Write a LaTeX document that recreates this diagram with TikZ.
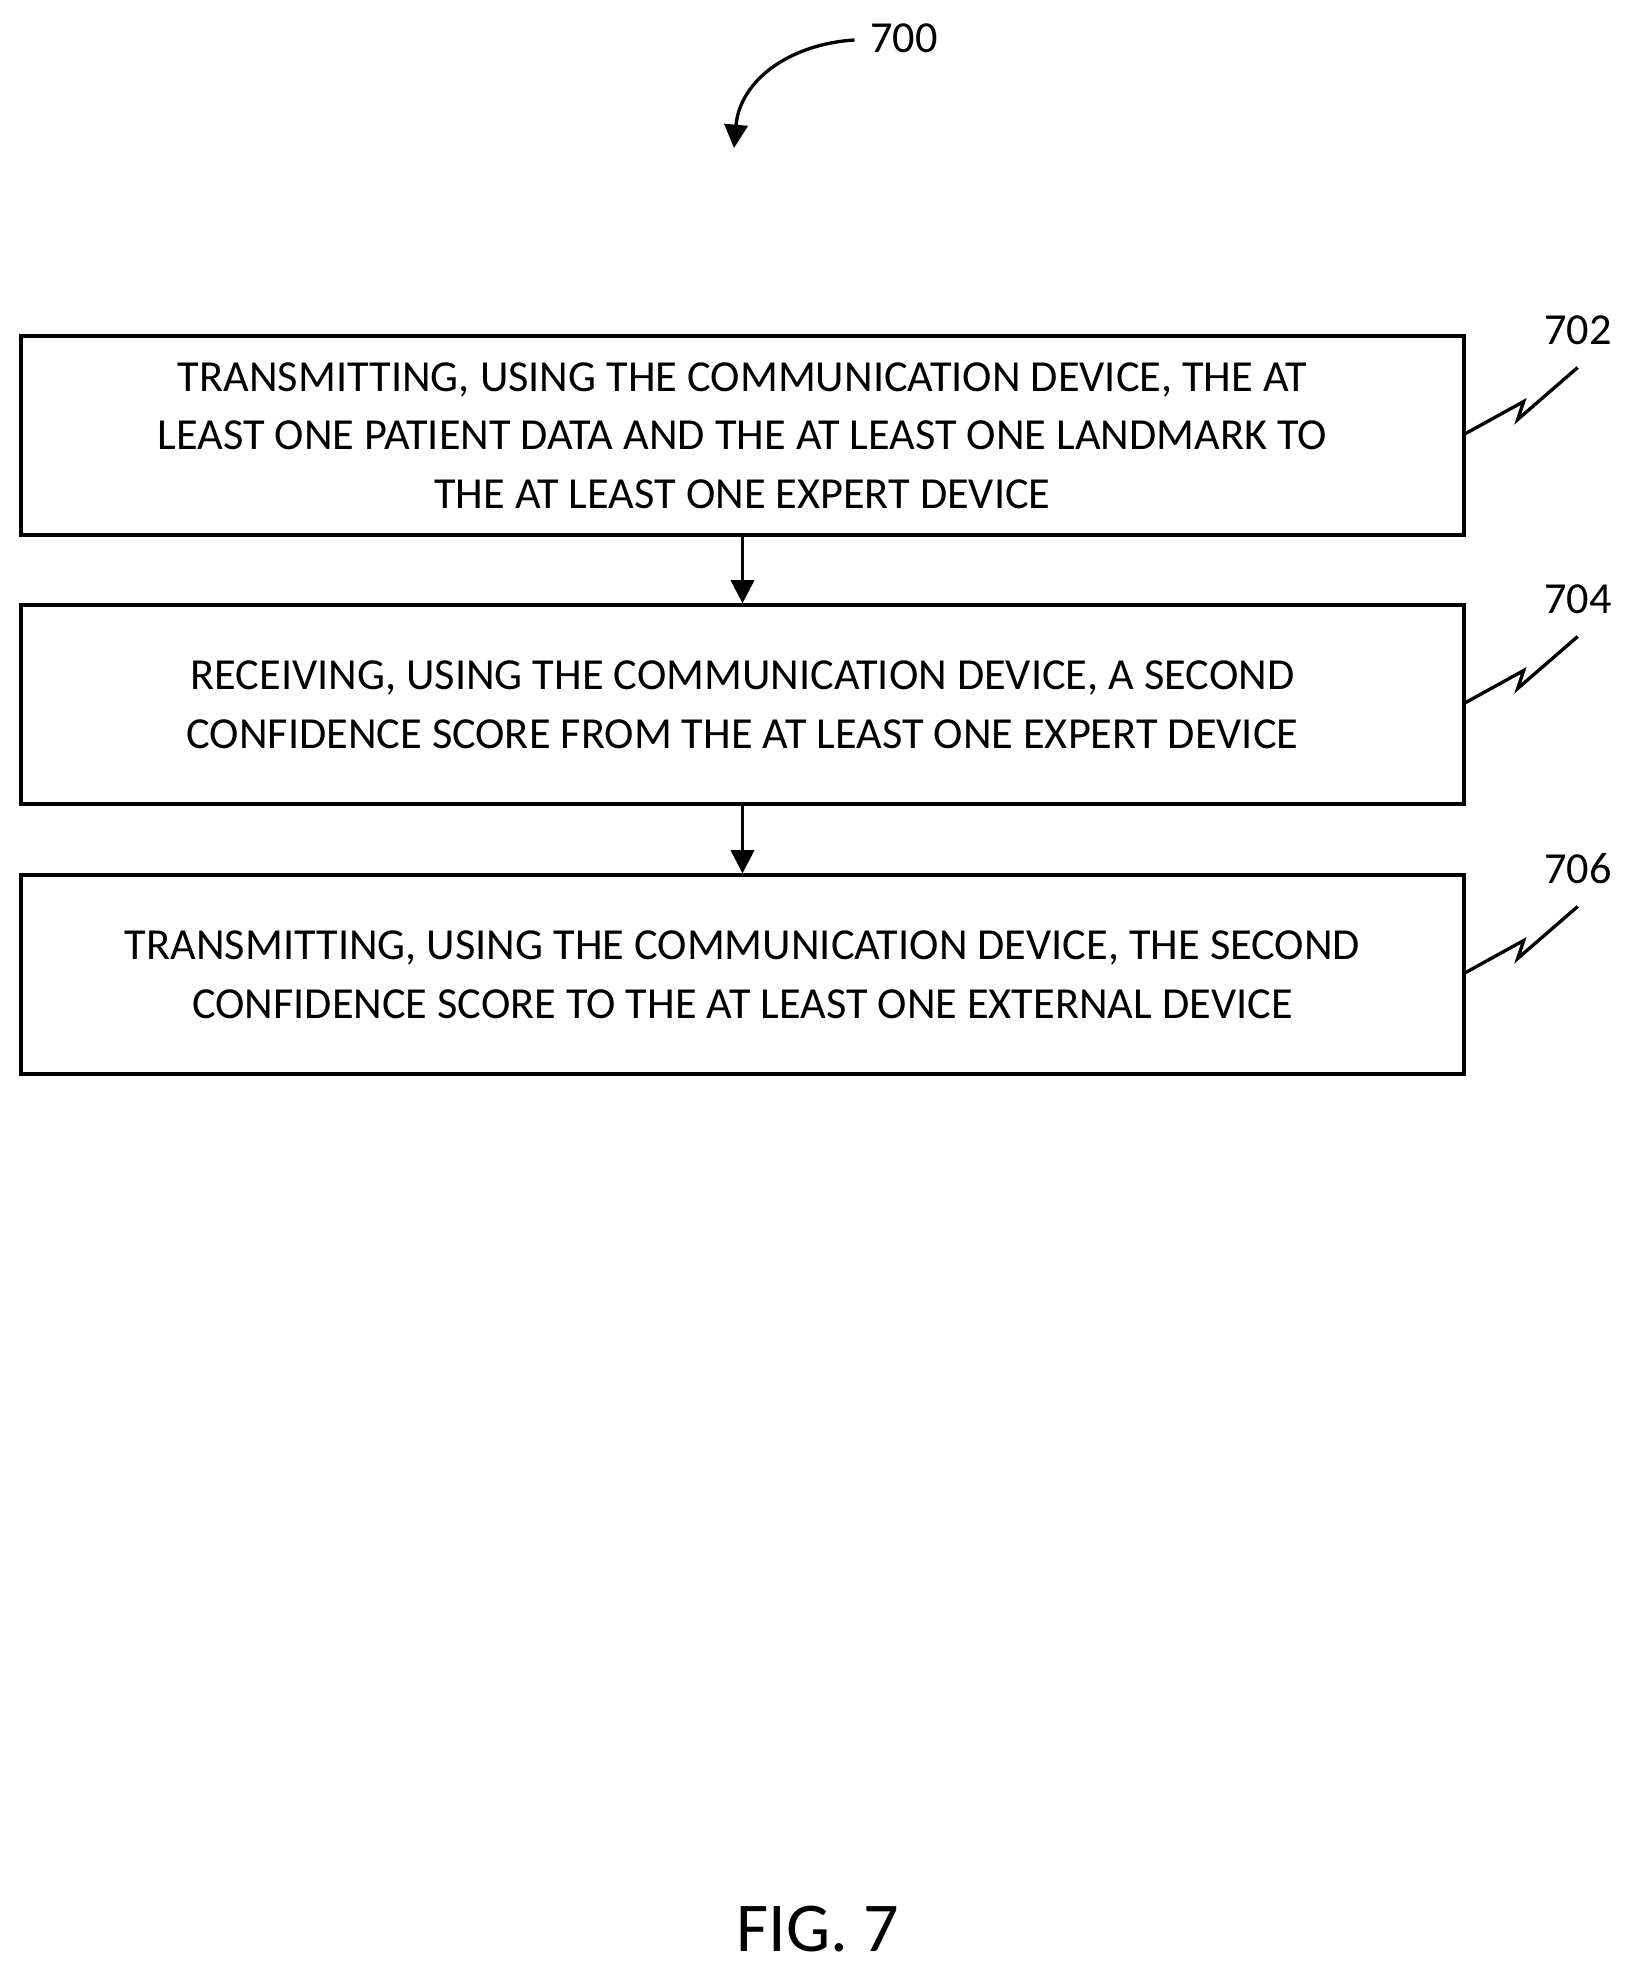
\documentclass[tikz,border=0pt]{standalone}
\usepackage{fontspec}
\setmainfont{Carlito}
\usetikzlibrary{arrows.meta}
\begin{document}
\begin{tikzpicture}[x=0.3pt,y=-0.3pt,
  stepbox/.style={draw,line width=1pt,minimum width=1443*0.3pt,minimum height=199*0.3pt,align=center,inner sep=0pt,font=\fontsize{13.3}{17.6}\selectfont},
  lbl/.style={font=\fontsize{13.3}{16}\selectfont},
  arr/.style={-{Triangle[length=7pt,width=7pt]},line width=1pt}]
\useasboundingbox (0,0) rectangle (1637,1977);
\node[stepbox] (b1) at (742.5,435.5) {TRANSMITTING, USING THE COMMUNICATION DEVICE, THE AT\\LEAST ONE PATIENT DATA AND THE AT LEAST ONE LANDMARK TO\\THE AT LEAST ONE EXPERT DEVICE};
\node[stepbox] (b2) at (742.5,704.5) {RECEIVING, USING THE COMMUNICATION DEVICE, A SECOND\\CONFIDENCE SCORE FROM THE AT LEAST ONE EXPERT DEVICE};
\node[stepbox] (b3) at (742.5,974.5) {TRANSMITTING, USING THE COMMUNICATION DEVICE, THE SECOND\\CONFIDENCE SCORE TO THE AT LEAST ONE EXTERNAL DEVICE};
\draw[arr] (b1.south) -- (b2.north);
\draw[arr] (b2.south) -- (b3.north);
\node[lbl] (l2) at (1578,330) {702};
\node[lbl] (l4) at (1578,599) {704};
\node[lbl] (l6) at (1578,869) {706};
\foreach \b/\l in {b1/l2,b2/l4,b3/l6}{
  \draw[line width=1pt] (\b.east) ++(0,-2) -- ++(58,-32) -- ++(-6,18) -- ++(60,-52);
}
\node[lbl] (l0) at (904,38) {700};
\coordinate (c0) at (734,148);
\draw[arr] (l0.west) ++(-4,2) .. controls (790,44) and (740,80) .. (c0);
\node[font=\fontsize{21}{24}\selectfont] (fig) at (818,1929) {FIG. 7};
\end{tikzpicture}
\end{document}
